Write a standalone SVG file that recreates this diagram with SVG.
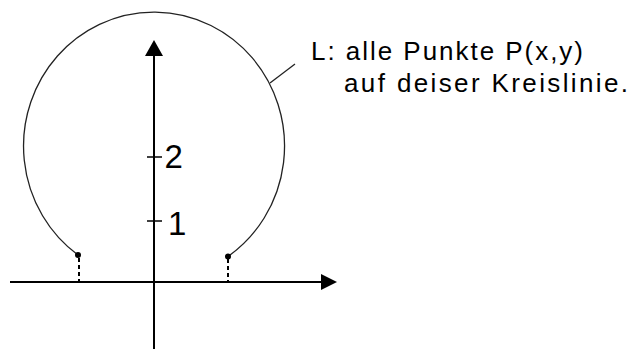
<svg xmlns="http://www.w3.org/2000/svg" width="629" height="349" viewBox="0 0 629 349">
<style>
.ax{stroke:#000;stroke-width:2;fill:none}
.tk{stroke:#000;stroke-width:1.5;fill:none}
.cv{stroke:#222;stroke-width:1.3;fill:none}
.ds{stroke:#000;stroke-width:2;stroke-dasharray:4 3;fill:none}
.t{font-family:"Liberation Sans",Arial,sans-serif;fill:#000}
</style>
<rect width="629" height="349" fill="#fff"/>
<g id="connectors">
<line class="ax" x1="10" y1="282" x2="323" y2="282"/>
<polygon points="321,274 337,282 321,290" fill="#000"/>
<line class="ax" x1="154" y1="349" x2="154" y2="54"/>
<polygon points="145,56 154,40 163,56" fill="#000"/>
<line class="tk" x1="147" y1="157" x2="162" y2="157"/>
<line class="tk" x1="147" y1="221" x2="162" y2="221"/>
<line class="ds" x1="79" y1="258" x2="79" y2="281"/>
<line class="ds" x1="228" y1="259" x2="228" y2="281"/>
<line class="cv" x1="270" y1="83" x2="295" y2="64"/>
</g>
<g id="curve">
<path class="cv" d="M78,255 A130.5 134 0 1 1 228,256.5"/>
<circle cx="78" cy="255" r="3" fill="#000"/>
<circle cx="228" cy="256.5" r="3" fill="#000"/>
</g>
<g id="labels">
<text class="t" x="164.5" y="168" font-size="33">2</text>
<text class="t" x="168" y="235" font-size="33">1</text>
<text class="t" x="311" y="60" font-size="26" textLength="272" lengthAdjust="spacing">L: alle Punkte P(x,y)</text>
<text class="t" x="344" y="92" font-size="26" textLength="284" lengthAdjust="spacing">auf deiser Kreislinie.</text>
</g>
</svg>
